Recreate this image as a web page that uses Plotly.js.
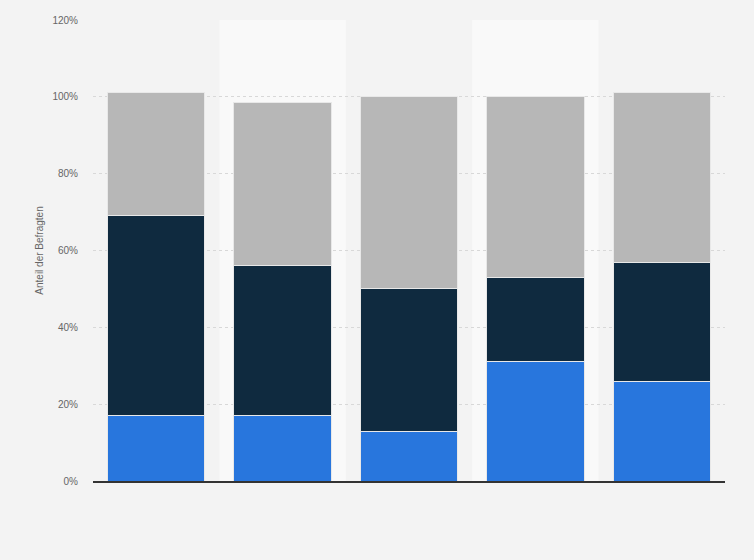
<!DOCTYPE html>
<html>
<head>
<meta charset="utf-8">
<script src="https://cdn.plot.ly/plotly-3.0.1.min.js"></script>
<style>
  html, body { margin: 0; padding: 0; background: #f3f3f3; }
  #chart { width: 754px; height: 560px; }
</style>
</head>
<body>
<div id="chart"></div>
<script>
// categories have no visible labels in the picture
const categories = ['A', 'B', 'C', 'D', 'E'];
const blueValues = [17, 17, 13, 31, 26];
const darkValues = [52, 39, 37, 22, 31];
const greyValues = [32, 42.5, 50, 47, 44];
const yTicks = [0, 20, 40, 60, 80, 100, 120];
const yTickLabels = ['0%', '20%', '40%', '60%', '80%', '100%', '120%'];

function barTrace(values, color) {
    return {
        x: categories,
        y: values,
        type: 'bar',
        marker: { color: color, line: { color: '#e8e8e8', width: 1 } },
        hoverinfo: 'none'
    };
}

const traces = [
    barTrace(blueValues, '#2876dd'),
    barTrace(darkValues, '#0f2a3f'),
    barTrace(greyValues, '#b7b7b7')
];

// lighter background bands behind every second category
const bands = [1, 3].map(i => ({
    type: 'rect', layer: 'below',
    xref: 'x', yref: 'paper',
    x0: i - 0.5, x1: i + 0.5, y0: 0, y1: 1,
    fillcolor: '#f9f9f9', line: { width: 0 }
}));

const layout = {
    width: 754,
    height: 560,
    paper_bgcolor: '#f3f3f3',
    plot_bgcolor: 'rgba(0,0,0,0)',
    barmode: 'stack',
    bargap: 0.23,
    showlegend: false,
    margin: { l: 93, r: 29, t: 20, b: 79 },
    shapes: bands,
    xaxis: {
        showticklabels: false,
        showgrid: false,
        zeroline: false,
        showline: true,
        linecolor: '#333333',
        linewidth: 1.5,
        ticks: ''
    },
    yaxis: {
        range: [0, 120],
        tickvals: yTicks,
        ticktext: yTickLabels,
        showgrid: true,
        gridcolor: '#d8d8d8',
        griddash: 'dot',
        gridwidth: 1,
        zeroline: false,
        ticks: '',
        ticklabelstandoff: 14,
        tickfont: { family: 'Liberation Sans, Arial, sans-serif', size: 10, color: '#666666' },
        title: {
            text: 'Anteil der Befragten',
            standoff: 6,
            font: { family: 'Liberation Sans, Arial, sans-serif', size: 10, color: '#666666' }
        }
    }
};

Plotly.newPlot('chart', traces, layout, { displayModeBar: false, staticPlot: true });
</script>
</body>
</html>
